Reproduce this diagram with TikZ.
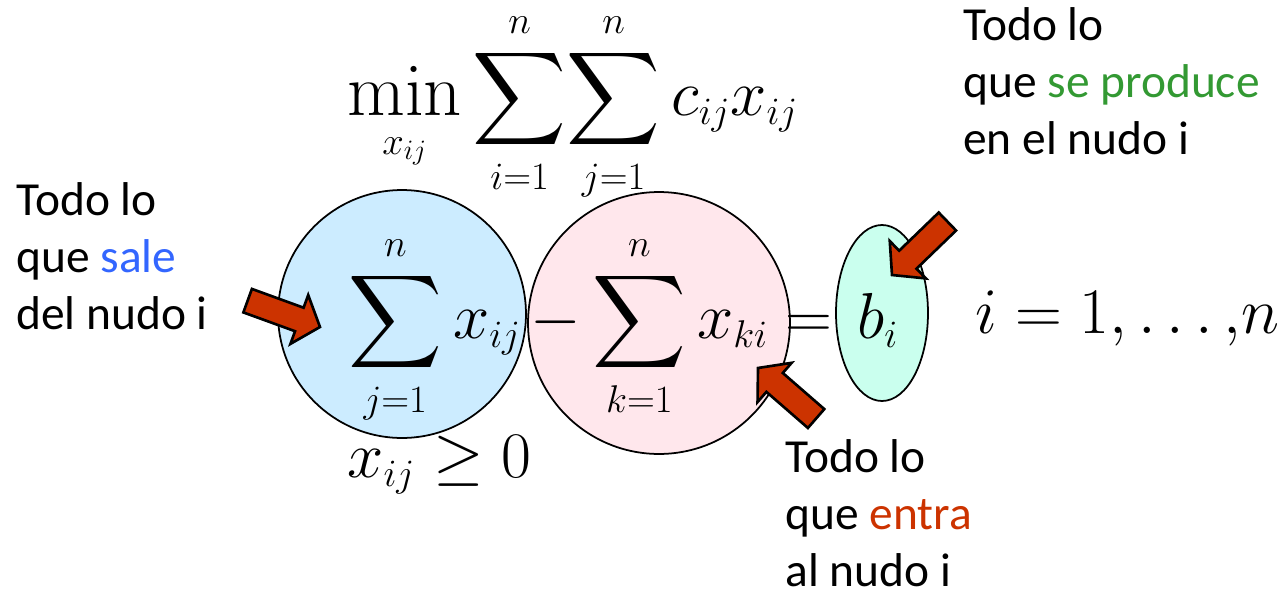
\documentclass[tikz,border=0pt]{standalone}
\usepackage{fix-cm}
\DeclareFontShape{OMX}{cmex}{m}{n}{<-> cmex10}{}
\DeclareMathSizes{37}{37}{22}{16}
\usepackage{graphicx}
\usepackage[no-math]{fontspec}
\newfontfamily\calibri{Carlito}
\definecolor{azulnudo}{RGB}{204,236,255}
\definecolor{rosanudo}{RGB}{255,231,236}
\definecolor{verdenudo}{RGB}{202,255,238}
\definecolor{rojo}{RGB}{204,51,0}
\definecolor{azul}{RGB}{51,102,255}
\definecolor{verde}{RGB}{51,153,51}
\tikzset{
  nudo/.style={circle, draw, line width=1pt, inner sep=0pt},
  texto/.style={font=\calibri\fontsize{27}{32.5}\selectfont, align=left, anchor=north west, inner sep=0pt},
  mate/.style={font=\fontsize{37}{44}\selectfont, inner sep=0pt, anchor=base west},
  flecha/.style={fill=rojo, draw=black, line width=1.5pt, line join=miter},
}
% flecha gruesa: punta x, punta y, angulo
\newcommand{\flechabloque}[3]{%
  \draw[flecha, shift={(#1,#2)}, rotate=#3]
    (0,0) -- (-22,-26) -- (-22,-12.5) -- (-77,-12.5) -- (-77,12.5) -- (-22,12.5) -- (-22,26) -- cycle;}
\newcommand{\minimo}{\mathop{\scalebox{1.15}{$\mathrm{min}$}}\limits}
\begin{document}
\begin{tikzpicture}[x=0.02cm, y=-0.02cm]
  \useasboundingbox (0,0) rectangle (1279,592);

  % nudos
  \node[nudo, fill=azulnudo, minimum size=4.96cm] (salida) at (402,314) {};
  \node[nudo, fill=rosanudo, minimum size=5.24cm] (llegada) at (659,323) {};
  \draw[fill=verdenudo, line width=1pt] (882,313) ellipse (46 and 88);

  % flechas
  \flechabloque{320}{327}{-20}
  \flechabloque{758}{368}{139}
  \flechabloque{892}{275}{224}

  % formulas
  \node[mate] (objetivo) at (347,115) {$\displaystyle\minimo_{x_{ij}}\sum_{i=1}^{n}\!\sum_{j=1}^{n}c_{ij}x_{ij}$};
  \node[mate] (sumasale) at (348,338) {$\displaystyle\sum_{j=1}^{n}x_{ij}$};
  \node[mate] (menos) at (530,338) {$-$};
  \node[mate] (sumaentra) at (592,338) {$\displaystyle\sum_{k=1}^{n}x_{ki}$};
  \node[mate] (igual) at (785,338) {$=$};
  \node[mate] (bi) at (857,338) {$b_{i}$};
  \node[mate] (rango) at (975,333) {$i=1,\ldots,\!n$};
  \node[mate] (signo) at (347,477) {$x_{ij}\geq 0$};

  % textos
  \node[texto] (sale) at (16,182) {Todo lo\\que \textcolor{azul}{sale}\\del nudo i};
  \node[texto] (produce) at (963,7) {Todo lo\\que \textcolor{verde}{se produce}\\en el nudo i};
  \node[texto] (entra) at (785,439) {Todo lo\\que \textcolor{rojo}{entra}\\al nudo i};
\end{tikzpicture}
\end{document}
